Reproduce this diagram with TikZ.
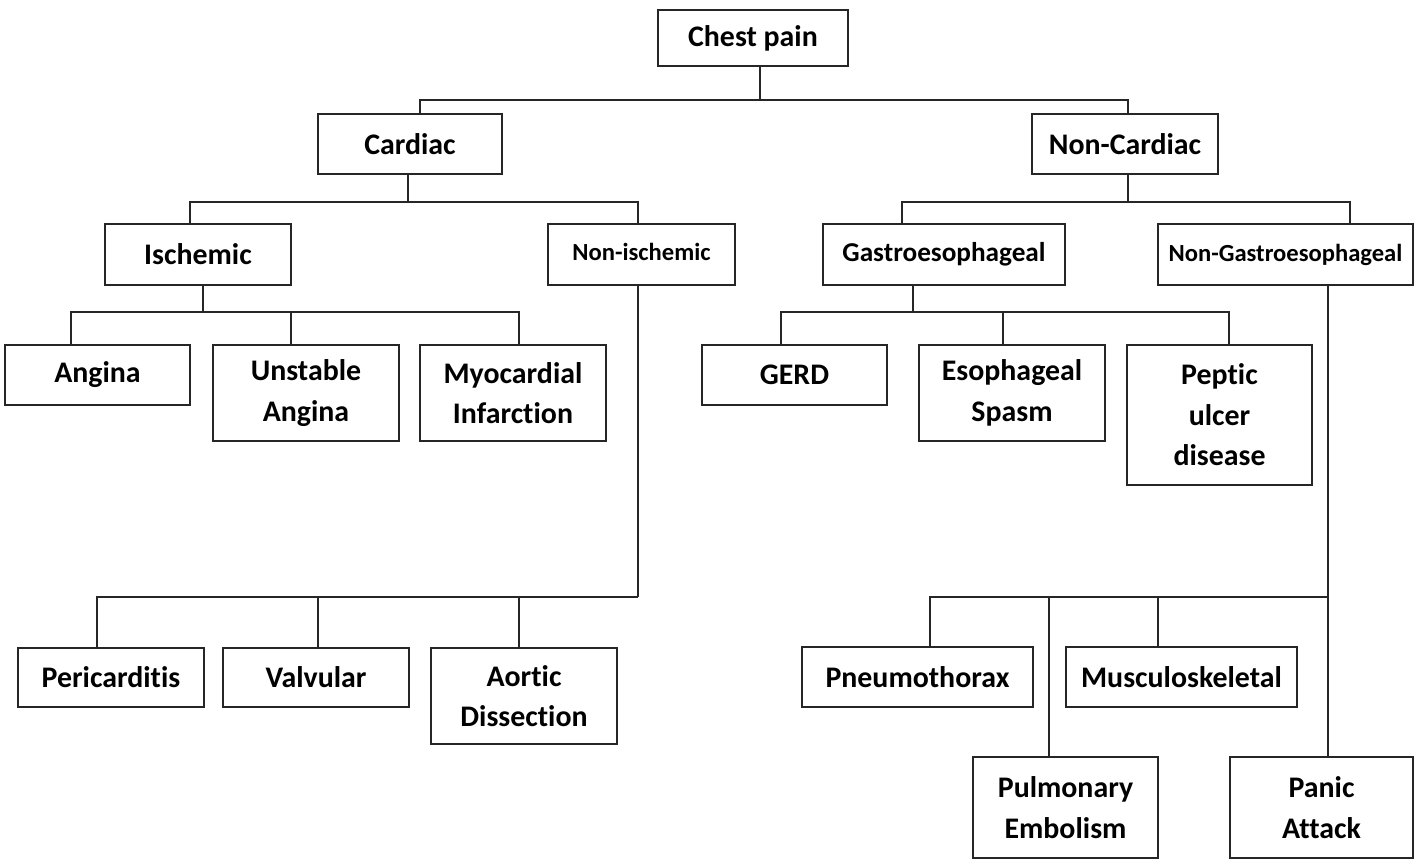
\documentclass[tikz,border=0pt]{standalone}
\usepackage{fontspec}
\setmainfont{Carlito}[Ligatures=NoCommon]
\tikzset{
  box/.style={draw=black!85, line width=1pt, fill=white, align=center, inner sep=0pt,
              font=\fontsize{17}{23}\selectfont\bfseries},
  smallbox/.style={box, font=\fontsize{14}{20}\selectfont\bfseries},
  midbox/.style={box, font=\fontsize{15.5}{20}\selectfont\bfseries},
  link/.style={draw=black!85, line width=1pt}
}
\newcommand\boxat[7][box]{\node[#1, minimum width={(#5-#3)*0.02cm}, minimum height={(#6-#4)*0.02cm}] (#2) at ({(#3+#5)/2},{(#4+#6)/2}) {#7};}
\begin{document}
\begin{tikzpicture}[x=0.02cm,y=-0.02cm]
\useasboundingbox (0,0) rectangle (1414,861);
% nodes: name, x1, y1, x2, y2, text
\boxat{chest}{658}{10}{848}{66}{Chest pain}
\boxat{cardiac}{318}{114}{502}{174}{Cardiac}
\boxat{noncard}{1032}{114}{1218}{174}{Non-Cardiac}
\boxat{isch}{105}{224}{291}{285}{Ischemic}
\boxat[smallbox]{nonisch}{548}{224}{735}{285}{\raisebox{2.5pt}{Non-ischemic}}
\boxat[midbox]{gastro}{823}{224}{1065}{285}{Gastroesophageal}
\boxat[smallbox]{nongastro}{1158}{224}{1413}{285}{Non-Gastroesophageal}
\boxat{angina}{5}{345}{190}{405}{Angina}
\boxat{unstable}{213}{345}{399}{441}{Unstable\\Angina}
\boxat{mi}{420}{345}{606}{441}{Myocardial\\Infarction}
\boxat{gerd}{702}{345}{887}{405}{GERD}
\boxat{spasm}{919}{345}{1105}{441}{Esophageal\\Spasm}
\boxat{peptic}{1127}{345}{1312}{485}{Peptic\\ulcer\\disease}
\boxat{peri}{18}{648}{204}{707}{Pericarditis}
\boxat{valv}{223}{648}{409}{707}{Valvular}
\boxat{aortic}{431}{648}{617}{744}{Aortic\\Dissection}
\boxat{pneumo}{802}{647}{1033}{707}{Pneumothorax}
\boxat{musc}{1066}{647}{1297}{707}{Musculoskeletal}
\boxat{pulm}{973}{757}{1158}{858}{Pulmonary\\Embolism}
\boxat{panic}{1230}{757}{1413}{858}{Panic\\Attack}
% junction coordinates
\coordinate (j0) at (760,100);
\coordinate (j0L) at (420,100);
\coordinate (j0R) at (1128,100);
\coordinate (j1) at (408,202);
\coordinate (j1L) at (190,202);
\coordinate (j1R) at (638,202);
\coordinate (j2) at (1128,202);
\coordinate (j2L) at (902,202);
\coordinate (j2R) at (1350,202);
\coordinate (j3) at (203,312);
\coordinate (j3L) at (71,312);
\coordinate (j3M) at (291,312);
\coordinate (j3R) at (519,312);
\coordinate (j4) at (913,312);
\coordinate (j4L) at (781,312);
\coordinate (j4M) at (1003,312);
\coordinate (j4R) at (1229,312);
\coordinate (j5) at (638,597);
\coordinate (j5L) at (97,597);
\coordinate (j5M) at (318,597);
\coordinate (j5R) at (519,597);
\coordinate (j6) at (1328,597);
\coordinate (j6L) at (930,597);
\coordinate (j6M) at (1049,597);
\coordinate (j6N) at (1158,597);
% connectors
\draw[link] (chest.south -| j0) -- (j0);
\draw[link] (j0L |- cardiac.north) -- (j0L) -- (j0R) -- (j0R |- noncard.north);
\draw[link] (cardiac.south -| j1) -- (j1);
\draw[link] (j1L |- isch.north) -- (j1L) -- (j1R) -- (j1R |- nonisch.north);
\draw[link] (noncard.south -| j2) -- (j2);
\draw[link] (j2L |- gastro.north) -- (j2L) -- (j2R) -- (j2R |- nongastro.north);
\draw[link] (isch.south -| j3) -- (j3);
\draw[link] (j3L |- angina.north) -- (j3L) -- (j3R) -- (j3R |- mi.north);
\draw[link] (j3M) -- (j3M |- unstable.north);
\draw[link] (gastro.south -| j4) -- (j4);
\draw[link] (j4L |- gerd.north) -- (j4L) -- (j4R) -- (j4R |- peptic.north);
\draw[link] (j4M) -- (j4M |- spasm.north);
\draw[link] (nonisch.south -| j5) -- (j5);
\draw[link] (j5L |- peri.north) -- (j5L) -- (j5);
\draw[link] (j5M) -- (j5M |- valv.north);
\draw[link] (j5R) -- (j5R |- aortic.north);
\draw[link] (nongastro.south -| j6) -- (j6 |- panic.north);
\draw[link] (j6L |- pneumo.north) -- (j6L) -- (j6);
\draw[link] (j6M) -- (j6M |- pulm.north);
\draw[link] (j6N) -- (j6N |- musc.north);
\end{tikzpicture}
\end{document}
